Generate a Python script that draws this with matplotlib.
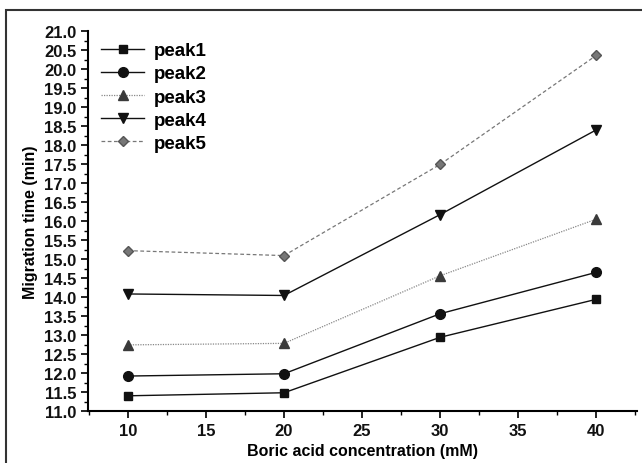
import matplotlib.pyplot as plt
from matplotlib.ticker import MultipleLocator
from matplotlib.patches import Rectangle

plt.rcParams['font.family'] = ['Liberation Sans', 'DejaVu Sans']
plt.rcParams['font.weight'] = 'bold'

conc = [10, 20, 30, 40]
peak1 = [11.40, 11.48, 12.94, 13.94]
peak2 = [11.92, 11.98, 13.56, 14.65]
peak3 = [12.74, 12.78, 14.56, 16.05]
peak4 = [14.08, 14.04, 16.17, 18.40]
peak5 = [15.22, 15.09, 17.49, 20.36]
labels = ['peak1', 'peak2', 'peak3', 'peak4', 'peak5']

styles = [
    dict(color='#111111', ls='-', lw=1.0, marker='s', mfc='#111111', mec='#111111', ms=6),
    dict(color='#111111', ls='-', lw=1.0, marker='o', mfc='#111111', mec='#111111', ms=7),
    dict(color='#888888', ls=(0, (1, 1)), lw=0.9, marker='^', mfc='#3a3a3a', mec='#3a3a3a', ms=7),
    dict(color='#111111', ls='-', lw=1.0, marker='v', mfc='#111111', mec='#111111', ms=7),
    dict(color='#777777', ls=(0, (3, 2)), lw=0.9, marker='D', mfc='#777777', mec='#555555', ms=5.5),
]

fig = plt.figure(figsize=(6.42, 4.64), dpi=100)
# border around the figure (cropped at right/bottom)
fig.patches.append(Rectangle((6 / 642, -0.1), 1.2, 1 - 11 / 464 + 0.1, transform=fig.transFigure,
                             fill=False, ec='#333333', lw=1.5))

ax = fig.add_axes([88 / 642, 52 / 464, 549 / 642, 380 / 464])
for ys, lab, st in zip([peak1, peak2, peak3, peak4, peak5], labels, styles):
    ax.plot(conc, ys, label=lab, **st)

ax.set_xlim(7.45, 42.6)
ax.set_ylim(11.0, 21.0)
ax.xaxis.set_major_locator(MultipleLocator(5))
ax.xaxis.set_minor_locator(MultipleLocator(2.5))
ax.yaxis.set_major_locator(MultipleLocator(0.5))
ax.yaxis.set_minor_locator(MultipleLocator(0.25))
ax.yaxis.set_major_formatter(plt.FormatStrFormatter('%.1f'))
ax.spines['top'].set_visible(False)
ax.spines['right'].set_visible(False)
ax.spines['left'].set_linewidth(1.5)
ax.spines['bottom'].set_linewidth(1.5)
ax.tick_params(which='major', direction='out', length=5, width=1.3, labelsize=12, colors='#111111')
ax.tick_params(which='minor', direction='out', length=3, width=1.0)

ax.set_xlabel('Boric acid concentration (mM)', fontsize=11.5, fontweight='bold', labelpad=4)
ax.set_ylabel('Migration time (min)', fontsize=11.5, fontweight='bold', labelpad=4)

leg = ax.legend(loc='upper left', bbox_to_anchor=(0.0, 1.005), frameon=False, fontsize=13.5,
                handlelength=2.3, handletextpad=0.5, labelspacing=0.32, borderaxespad=0.3)

fig.savefig('out.png', dpi=100)
